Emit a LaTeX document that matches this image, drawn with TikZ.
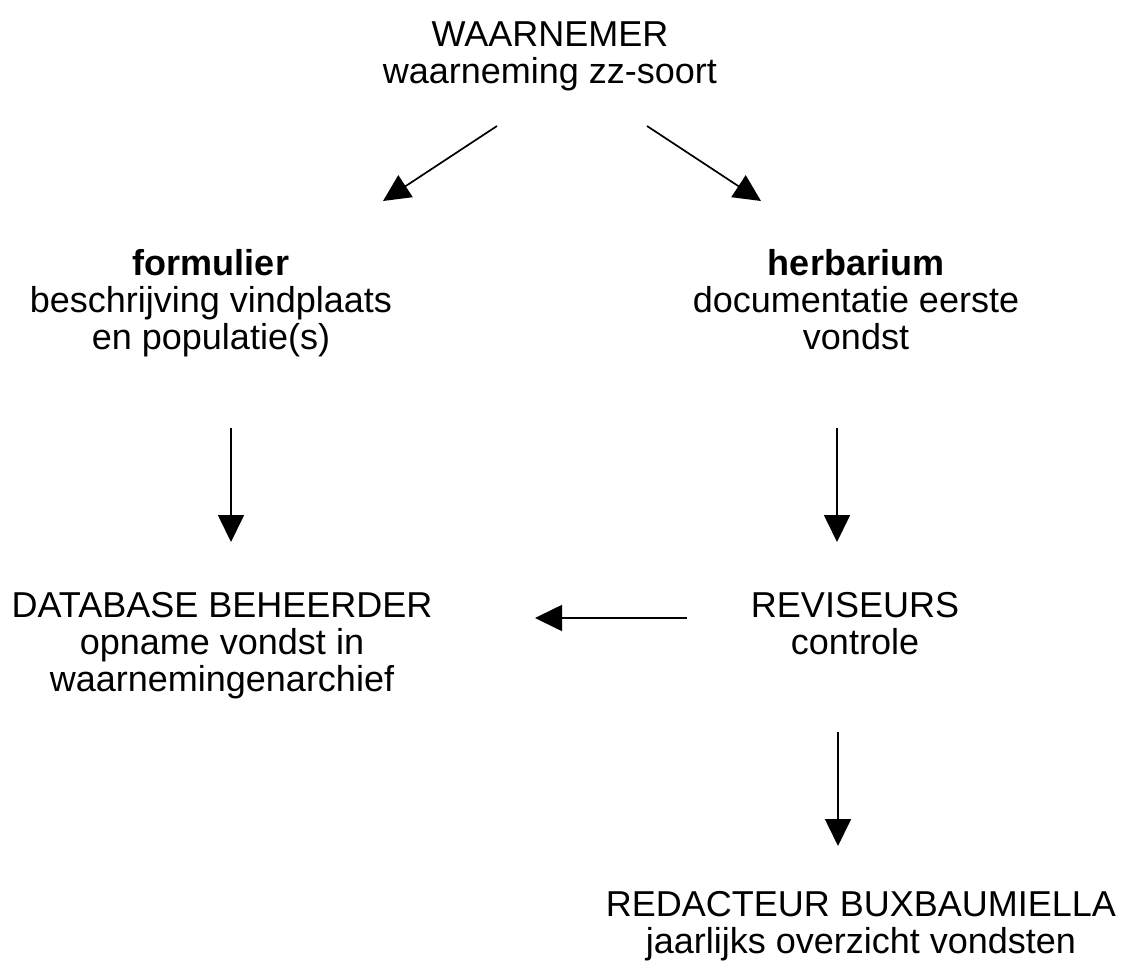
\documentclass[tikz,border=0pt]{standalone}
\usepackage{fontspec}
\setmainfont{Liberation Sans}
\usetikzlibrary{arrows.meta}
\tikzset{
  lbl/.style={align=center, anchor=base, inner sep=0pt, font=\fontsize{36pt}{37pt}\selectfont},
  conn/.style={line width=1.7pt, -{Triangle[length=27pt,width=26pt]}}
}
\begin{document}
\begin{tikzpicture}[x=1pt,y=-1pt]
\useasboundingbox (0,0) rectangle (1142,968);
\node[lbl] (waar) at (550,84) {WAARNEMER\\waarneming zz-soort};
\node[lbl] (form) at (211,349) {\textbf{formulier}\\beschrijving vindplaats\\en populatie(s)};
\node[lbl] (herb) at (856,349) {\textbf{herbarium}\\documentatie eerste\\vondst};
\node[lbl] (db) at (222,691) {DATABASE BEHEERDER\\opname vondst in\\waarnemingenarchief};
\node[lbl] (rev) at (855,654) {REVISEURS\\controle};
\node[lbl] (red) at (861,953) {REDACTEUR BUXBAUMIELLA\\jaarlijks overzicht vondsten};
\coordinate (a1s) at (497,126); \coordinate (a1e) at (383,201);
\coordinate (a2s) at (647,126); \coordinate (a2e) at (761,201);
\coordinate (a3s) at (231,428); \coordinate (a3e) at (231,542);
\coordinate (a4s) at (837,428); \coordinate (a4e) at (837,542);
\coordinate (a5s) at (687,618); \coordinate (a5e) at (535,618);
\coordinate (a6s) at (838,732); \coordinate (a6e) at (838,846);
\draw[conn] (a1s) -- (a1e);
\draw[conn] (a2s) -- (a2e);
\draw[conn] (a3s) -- (a3e);
\draw[conn] (a4s) -- (a4e);
\draw[conn] (a5s) -- (a5e);
\draw[conn] (a6s) -- (a6e);
\end{tikzpicture}
\end{document}
